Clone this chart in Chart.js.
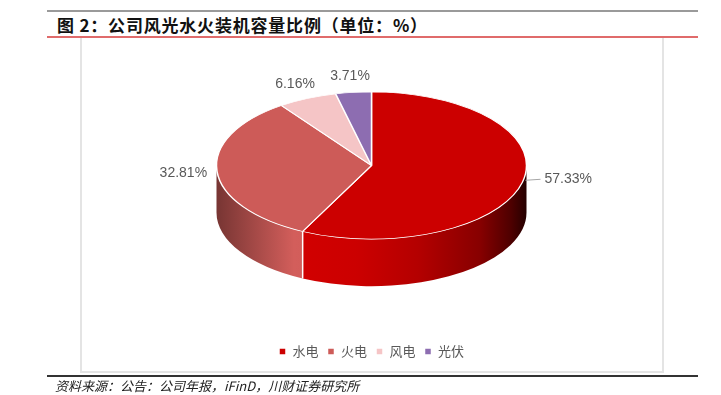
<!DOCTYPE html>
<html lang="zh-CN">
<head>
<meta charset="UTF-8" />
<title>公司风光水火装机容量比例</title>
<script src="https://cdn.jsdelivr.net/npm/chart.js"></script>
<style>
  body {
    margin: 0;
    width: 721px;
    height: 395px;
    overflow: hidden;
    background: #fff;
    position: relative;
    font-family: "Noto Sans CJK SC", sans-serif;
  }
  .rule-top { position: absolute; left: 47px; top: 10px; width: 651px; height: 2px; background: #9a9a9a; }
  .title {
    position: absolute; left: 57px; top: 12px;
    font-size: 17px; font-weight: bold; color: #111;
    line-height: 26px; white-space: nowrap; letter-spacing: 0.8px;
  }
  .rule-red { position: absolute; left: 47px; top: 36px; width: 651px; height: 2px; background: #e06b6b; }
  .box {
    position: absolute; left: 80px; top: 38px; width: 580px; height: 333px;
    border: 2px solid #e4e4e4; border-top: none;
  }
  .chart-wrap { position: absolute; left: 0; top: -20px; width: 721px; height: 415px; }
  .rule-foot { position: absolute; left: 47px; top: 375px; width: 651px; height: 2px; background: #333; }
  .source {
    position: absolute; left: 55px; top: 377px;
    font-size: 13px; font-style: italic; color: #222;
    line-height: 17px; white-space: nowrap;
  }
</style>
</head>
<body>
  <div class="rule-top"></div>
  <div class="title">图 2：公司风光水火装机容量比例（单位：%）</div>
  <div class="rule-red"></div>
  <div class="box"></div>
  <div class="chart-wrap"><canvas id="pie"></canvas></div>
  <div class="rule-foot"></div>
  <div class="source">资料来源：公告：公司年报，iFinD，川财证券研究所</div>

<script>
  const categories = ['水电', '火电', '风电', '光伏'];
  const shares = [57.33, 32.81, 6.16, 3.71];

  const colors = ['#CC0000', '#CD5B58', '#F5C5C6', '#8D6DB1'];
  const squash = 0.475;     // ellipse height / width
  const depth = 47;         // thickness of the pie side
  const leaderSlices = [0]; // labels pulled out with a leader line

  // side lighting: position across the pie width -> brightness factor
  const sideStops = [[0, 0.58], [0.25, 1.03], [0.45, 1.0], [0.65, 0.88], [0.85, 0.66], [0.95, 0.38], [1, 0.18]];

  function shade(hex, f) {
    const n = parseInt(hex.slice(1), 16);
    const c = v => Math.max(0, Math.min(255, Math.round(v * f)));
    return `rgb(${c(n >> 16)},${c((n >> 8) & 255)},${c(n & 255)})`;
  }

  function visibleParts(s, e) {
    const parts = [];
    [-2, 0, 2].forEach(k => {
      const a = Math.max(s, k * Math.PI), b = Math.min(e, k * Math.PI + Math.PI);
      if (a < b) parts.push([a, b]);
    });
    return parts;
  }

  const tilt = {
    id: 'tilt',
    beforeDatasetsDraw(chart) {
      const ctx = chart.ctx;
      const arcs = chart.getDatasetMeta(0).data;
      const { x, y, outerRadius: r } = arcs[0];
      const ry = r * squash;

      // side walls, front half only
      arcs.forEach((arc, i) => {
        visibleParts(arc.startAngle, arc.endAngle).forEach(([a, b]) => {
          const g = ctx.createLinearGradient(x - r, 0, x + r, 0);
          sideStops.forEach(([p, f]) => g.addColorStop(p, shade(colors[i], f)));
          ctx.beginPath();
          ctx.ellipse(x, y, r, ry, 0, a, b);
          ctx.ellipse(x, y + depth, r, ry, 0, b, a, true);
          ctx.closePath();
          ctx.fillStyle = g;
          ctx.fill();
        });
      });
      // white seams between slices on the side
      ctx.strokeStyle = '#fff';
      ctx.lineWidth = 1.5;
      arcs.forEach(arc => {
        const a = arc.startAngle;
        const sn = Math.sin(a);
        if (sn > 0.02) {
          const px = x + r * Math.cos(a), py = y + ry * sn;
          ctx.beginPath();
          ctx.moveTo(px, py);
          ctx.lineTo(px, py + depth);
          ctx.stroke();
        }
      });

      ctx.save();
      ctx.translate(0, y);
      ctx.scale(1, squash);
      ctx.translate(0, -y);
    },
    afterDatasetsDraw(chart) {
      const ctx = chart.ctx;
      ctx.restore();

      const arcs = chart.getDatasetMeta(0).data;
      const { x, y, outerRadius: r } = arcs[0];
      const ry = r * squash;
      ctx.save();
      ctx.font = '14px "Liberation Sans", Arial, sans-serif';
      ctx.fillStyle = '#595959';
      ctx.strokeStyle = '#a6a6a6';
      ctx.lineWidth = 1;
      ctx.textBaseline = 'middle';
      ctx.textAlign = 'left';
      arcs.forEach((arc, i) => {
        const m = (arc.startAngle + arc.endAngle) / 2;
        const c = Math.cos(m), s = Math.sin(m);
        const text = shares[i].toFixed(2) + '%';
        const w = ctx.measureText(text).width;
        if (leaderSlices.includes(i)) {
          const ex = x + r * c, ey = y + ry * s - 2;
          ctx.beginPath();
          ctx.moveTo(ex + 3, ey);
          ctx.lineTo(x + r + 14, ey - 1);
          ctx.stroke();
          ctx.fillText(text, x + r + 18, ey - 1);
        } else {
          const lx = x + (r + 10) * c, ly = y + (ry + 16) * s;
          ctx.fillText(text, lx - w * (1 - c) / 2, ly);
        }
      });
      ctx.restore();
    }
  };

  new Chart(document.getElementById('pie'), {
    type: 'pie',
    data: {
      labels: categories,
      datasets: [{
        data: shares,
        backgroundColor: colors,
        borderColor: '#fff',
        borderWidth: 1.5,
        clip: false
      }]
    },
    options: {
      responsive: true,
      maintainAspectRatio: false,
      animation: false,
      events: [],
      radius: 155,
      layout: { padding: { left: 22, right: 0, top: 15, bottom: 27 } },
      plugins: {
        legend: {
          position: 'bottom',
          labels: {
            boxWidth: 7,
            boxHeight: 7,
            padding: 9,
            color: '#595959',
            font: { size: 13, family: '"Noto Sans CJK SC", sans-serif' }
          }
        },
        tooltip: { enabled: false }
      }
    },
    plugins: [tilt]
  });
</script>
</body>
</html>
